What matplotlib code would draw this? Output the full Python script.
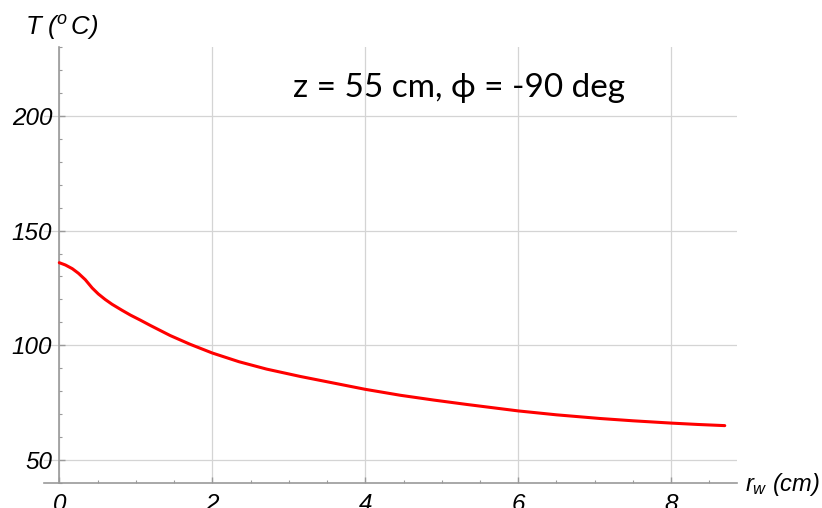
import matplotlib
matplotlib.use("Agg")
import matplotlib.pyplot as plt
from matplotlib.ticker import MultipleLocator

plt.rcParams['mathtext.fontset'] = 'custom'
plt.rcParams['mathtext.it'] = 'Liberation Sans:italic'
plt.rcParams['mathtext.rm'] = 'Liberation Sans:italic'

# data
r_w = [0.0, 0.08, 0.17, 0.25, 0.34, 0.43, 0.51, 0.6, 0.69, 0.82, 0.93, 1.06,
       1.19, 1.45, 1.71, 2.0, 2.35, 2.71, 3.15, 3.59, 4.0, 4.46, 4.9, 5.33,
       6.0, 6.5, 7.07, 7.5, 8.0, 8.35, 8.7]
T = [136.0, 135.0, 133.4, 131.4, 128.6, 125.0, 122.4, 120.0, 117.9, 115.3, 113.2, 111.0,
     108.7, 104.3, 100.5, 96.7, 92.9, 89.7, 86.5, 83.6, 80.9, 78.3, 76.2, 74.3,
     71.5, 69.8, 68.2, 67.2, 66.2, 65.6, 65.1]

xticks = [0, 2, 4, 6, 8]
yticks = [50, 100, 150, 200]
title_text = "z = 55 cm, \u03d5 = -90 deg"

fig = plt.figure(figsize=(8.22, 5.08), dpi=100)
ax = fig.add_axes([44/822, 1-483.3/508, (737-44)/822, (483.3-46.7)/508])
ax.set_xlim(-0.2, 8.86)
ax.set_ylim(40, 230)

ax.plot(r_w, T, color='#ff0000', lw=2.2, solid_capstyle='round',
        solid_joinstyle='round', zorder=3)

for s in ['top', 'right']:
    ax.spines[s].set_visible(False)
ax.spines['left'].set_position(('data', 0))
for s in ['left', 'bottom']:
    ax.spines[s].set_color('#9a9a9a')
    ax.spines[s].set_linewidth(1.2)

ax.set_xticks(xticks)
ax.set_yticks(yticks)
ax.xaxis.set_minor_locator(MultipleLocator(0.5))
ax.yaxis.set_minor_locator(MultipleLocator(10))
ax.tick_params(which='both', direction='in', color='#9a9a9a')
ax.tick_params(which='major', length=4.5, width=1)
ax.tick_params(which='minor', length=2.5, width=0.8)
ax.tick_params(axis='y', which='major', labelsize=17.5, pad=5)
ax.tick_params(axis='x', which='major', labelsize=17.5, pad=7)
for lab in ax.get_xticklabels() + ax.get_yticklabels():
    lab.set_fontfamily('Liberation Sans')
    lab.set_fontstyle('italic')

ax.grid(True, which='major', color='#d4d4d4', lw=0.9)
ax.set_axisbelow(True)

fig.text(25/822, 1-27/508, r"$T\ (^{o}\,C)$", fontsize=18.5, va='center', ha='left')
fig.text(745/822, 1-485/508, r"$r_w\ (cm)$", fontsize=17, va='center', ha='left')
fig.text(293/822, 1-88/508, title_text, fontsize=24, va='center', ha='left',
         family=['Lato', 'DejaVu Sans'])

fig.savefig('out.png', dpi=100)
